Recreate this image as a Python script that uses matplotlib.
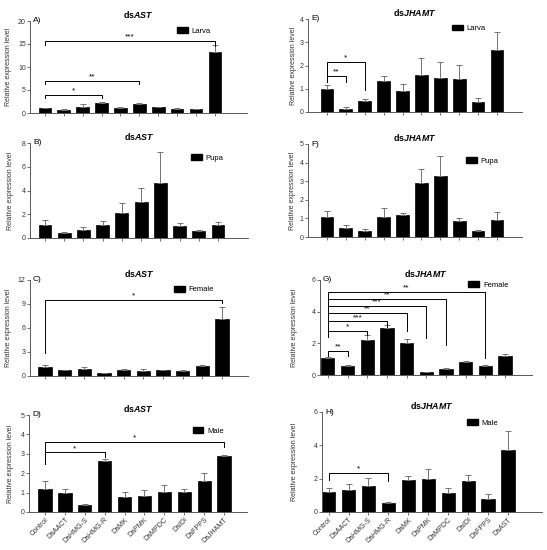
import matplotlib
matplotlib.use('Agg')
import matplotlib.pyplot as plt
from matplotlib.patches import Patch

plt.rcParams['font.family'] = ['Liberation Sans', 'DejaVu Sans']
plt.rcParams['mathtext.fontset'] = 'custom'
plt.rcParams['mathtext.it'] = 'Liberation Sans:italic:bold'
plt.rcParams['mathtext.rm'] = 'Liberation Sans:bold'

# tick labels of the two columns
genes_ast = ['Control', 'DaAACT', 'DaHMG-S', 'DaHMG-R', 'DaMK', 'DaPMK',
             'DaMPDC', 'DaIDI', 'DaFPPS', 'DaJHAMT']
genes_jhamt = ['Control', 'DaAACT', 'DaHMG-S', 'DaHMG-R', 'DaMK', 'DaPMK',
               'DaMPDC', 'DaIDI', 'DaFPPS', 'DaAST']

# dsAST panels (mean, upper error)
larva_ast = [1.08, 0.72, 1.4, 2.1, 1.0, 2.0, 1.2, 0.9, 0.85, 13.2]
larva_ast_err = [0.1, 0.08, 0.6, 0.2, 0.2, 0.1, 0.1, 0.1, 0.05, 1.5]
pupa_ast = [1.07, 0.42, 0.67, 1.07, 2.1, 3.0, 4.66, 0.98, 0.56, 1.07]
pupa_ast_err = [0.42, 0.1, 0.25, 0.37, 0.84, 1.2, 2.55, 0.28, 0.14, 0.3]
female_ast = [1.09, 0.7, 0.92, 0.38, 0.8, 0.58, 0.7, 0.67, 1.26, 7.1]
female_ast_err = [0.3, 0.05, 0.2, 0.05, 0.12, 0.25, 0.05, 0.1, 0.12, 1.47]
male_ast = [1.18, 0.98, 0.38, 2.65, 0.75, 0.8, 1.03, 1.01, 1.58, 2.91]
male_ast_err = [0.43, 0.2, 0.02, 0.08, 0.27, 0.31, 0.34, 0.17, 0.43, 0.04]

# dsJHAMT panels
larva_jh = [1.0, 0.12, 0.47, 1.35, 0.89, 1.57, 1.47, 1.42, 0.43, 2.66]
larva_jh_err = [0.17, 0.1, 0.08, 0.2, 0.33, 0.76, 0.7, 0.62, 0.19, 0.79]
pupa_jh = [1.09, 0.5, 0.34, 1.1, 1.2, 2.93, 3.29, 0.84, 0.3, 0.93]
pupa_jh_err = [0.3, 0.14, 0.07, 0.45, 0.09, 0.71, 1.09, 0.16, 0.09, 0.41]
female_jh = [1.05, 0.59, 2.22, 2.96, 2.0, 0.19, 0.4, 0.82, 0.57, 1.2]
female_jh_err = [0.1, 0.05, 0.3, 0.2, 0.25, 0.03, 0.05, 0.06, 0.05, 0.15]
male_jh = [1.23, 1.31, 1.57, 0.54, 1.91, 1.99, 1.15, 1.85, 0.78, 3.7]
male_jh_err = [0.24, 0.36, 0.48, 0.06, 0.26, 0.62, 0.32, 0.4, 0.28, 1.19]

# significance brackets: (from, to, height, label, left end, right end)
brk_a = [(0, 3, 4.0, '*', 3.2, 3.2), (0, 5, 7.0, '**', 6.2, 6.2),
         (0, 9, 15.7, '***', 14.8, 14.6)]
brk_c = [(0, 9, 9.5, '*', 2.9, 9.1)]
brk_d = [(0, 3, 3.07, '*', 2.5, 2.86), (0, 9, 3.63, '*', 2.5, 3.37)]
brk_e = [(0, 1, 1.54, '**', 1.3, 1.3), (0, 2, 2.16, '*', 1.3, 0.96)]
brk_g = [(0, 1, 1.53, '**', 1.22, 1.22), (0, 2, 2.81, '*', 2.43, 2.5),
         (0, 3, 3.38, '***', 2.43, 3.06), (0, 4, 3.9, '**', 2.43, 2.81),
         (0, 5, 4.38, '***', 2.43, 2.33), (0, 6, 4.78, '**', 2.43, 1.9),
         (0, 8, 5.26, '**', 2.43, 1.07)]
brk_h = [(0, 3, 2.35, '*', 1.95, 1.85)]

W, H = 547, 550
fig = plt.figure(figsize=(W / 100, H / 100), dpi=100)

panels = [
    # letter, gene, stage, vals, errs, labels, ylim, ticks, brackets, box px, xlim, legend pos, ylabel px, x labels
    ('A)', 'AST', 'Larva', larva_ast, larva_ast_err, genes_ast, 20, [0, 5, 10, 15, 20], brk_a,
     (30, 247, 21, 113), (-0.79, 10.7), (0.677, 0.89), 18, False),
    ('B)', 'AST', 'Pupa', pupa_ast, pupa_ast_err, genes_ast, 8, [0, 2, 4, 6, 8], [],
     (30, 248, 143, 238), (-0.78, 10.56), (0.74, 0.84), 16, False),
    ('C)', 'AST', 'Female', female_ast, female_ast_err, genes_ast, 12, [0, 3, 6, 9, 12], brk_c,
     (30, 248, 280, 376), (-0.76, 10.32), (0.66, 0.90), 18, False),
    ('D)', 'AST', 'Male', male_ast, male_ast_err, genes_ast, 5, [0, 1, 2, 3, 4, 5], brk_d,
     (29, 247, 415, 512), (-0.8, 10.15), (0.75, 0.835), 15, True),
    ('E)', 'JHAMT', 'Larva', larva_jh, larva_jh_err, genes_jhamt, 4, [0, 1, 2, 3, 4], brk_e,
     (308, 522, 19, 112), (-1.0, 10.32), (0.673, 0.90), 11, False),
    ('F)', 'JHAMT', 'Pupa', pupa_jh, pupa_jh_err, genes_jhamt, 5, [0, 1, 2, 3, 4, 5], [],
     (308, 522, 144, 237), (-1.0, 10.32), (0.74, 0.82), 12, False),
    ('G)', 'JHAMT', 'Female', female_jh, female_jh_err, genes_jhamt, 6, [0, 2, 4, 6], brk_g,
     (320, 532, 280, 375), (-0.4, 10.37), (0.70, 0.95), 22, False),
    ('H)', 'JHAMT', 'Male', male_jh, male_jh_err, genes_jhamt, 6, [0, 2, 4, 6], brk_h,
     (322, 542, 412, 512), (-0.33, 10.7), (0.66, 0.89), 24, True),
]

for (letter, gene, stage, vals, errs, labels, ytop, yticks, brks,
     box, xlim, legpos, ylab_px, show_x) in panels:
    x0, x1, yt, yb = box
    ax = fig.add_axes([x0 / W, 1 - yb / H, (x1 - x0) / W, (yb - yt) / H])
    xs = list(range(len(vals)))
    ax.bar(xs, vals, width=0.67, color='black', edgecolor='black', linewidth=0.5)
    ax.errorbar(xs, vals, yerr=[[0] * len(errs), errs], fmt='none', ecolor='0.45',
                elinewidth=0.7, capsize=2, capthick=0.7)

    for i, j, y, txt, yl, yr in brks:
        ax.plot([i, i, j, j], [yl, y, y, yr], color='black', lw=0.7, clip_on=False)
        ax.text((i + j) / 2, y + ytop * 0.005, txt, ha='center', va='bottom', fontsize=6)

    ax.set_xlim(*xlim)
    ax.set_ylim(0, ytop)
    ax.set_yticks(yticks)
    ax.set_xticks(xs)
    if show_x:
        ax.set_xticklabels(labels, rotation=45, ha='right', rotation_mode='anchor', fontsize=6)
    else:
        ax.set_xticklabels([])
    for s in ['top', 'right']:
        ax.spines[s].set_visible(False)
    for s in ['left', 'bottom']:
        ax.spines[s].set_color('0.35')
        ax.spines[s].set_linewidth(0.7)
    ax.tick_params(axis='both', length=2, width=0.6, color='0.35', labelsize=5,
                   labelcolor='0.2', pad=1)

    ax.set_ylabel('Relative expression level', fontsize=5, color='0.2')
    ax.yaxis.set_label_coords(-ylab_px / (x1 - x0), 0.5)

    ax.set_title(r'ds$\mathit{' + gene + '}$', fontsize=6.4, fontweight='bold', pad=2)
    ax.text(3 / (x1 - x0), 1.0, letter, transform=ax.transAxes, fontsize=6, va='center', ha='left')

    ax.legend(handles=[Patch(facecolor='black', edgecolor='black', label=stage)],
              loc='center left', bbox_to_anchor=legpos, frameon=False, fontsize=5.5,
              handlelength=1.4, handleheight=0.8, handletextpad=0.5,
              borderpad=0, borderaxespad=0)

fig.savefig('out.png', dpi=100)
